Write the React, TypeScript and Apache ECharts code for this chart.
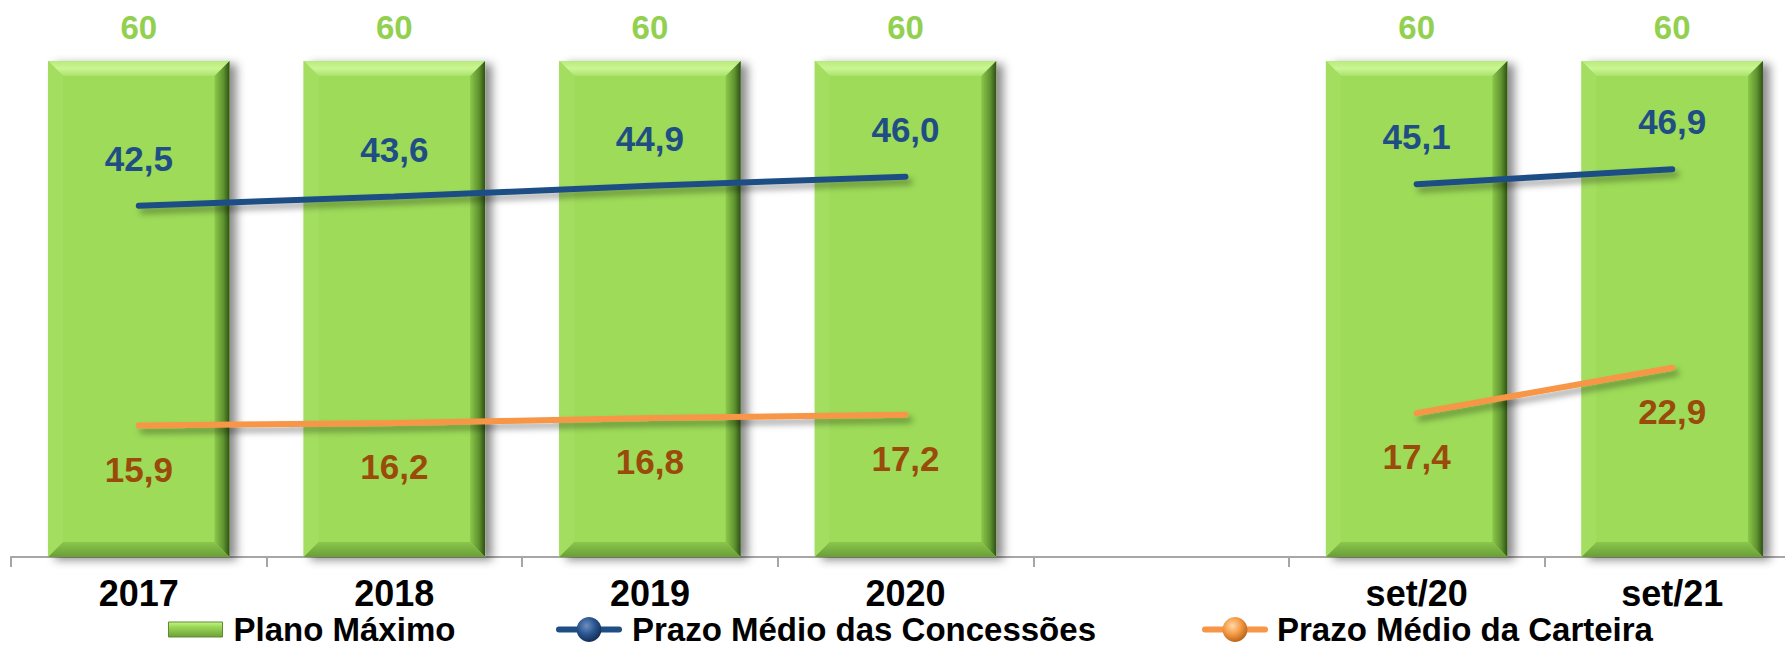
import React, { useEffect, useRef } from 'react';
import * as echarts from 'echarts';

const categories = ['2017', '2018', '2019', '2020', '', 'set/20', 'set/21'];
const planoMaximo: (number | string)[] = [60, 60, 60, 60, '-', 60, 60];
const prazoConcessoes: (number | string)[] = [42.5, 43.6, 44.9, 46.0, '-', 45.1, 46.9];
const prazoCarteira: (number | string)[] = [15.9, 16.2, 16.8, 17.2, '-', 17.4, 22.9];
const seriesNames = ['Plano Máximo', 'Prazo Médio das Concessões', 'Prazo Médio da Carteira'];

const FONT = 'Arial, "Liberation Sans", sans-serif';
const BAR_W = 0.71;

const fmt = (p: any) => {
  const v = Array.isArray(p.value) ? p.value[1] : p.value;
  return Number(v).toFixed(1).replace('.', ',');
};

export default function App() {
  const ref = useRef<HTMLDivElement>(null);
  useEffect(() => {
    document.body.style.margin = '0';
    if (!ref.current) return;
    const chart = echarts.init(ref.current, null, { renderer: 'svg' });
    const bevelData = planoMaximo
      .map((v, i) => (v === '-' ? null : [i, v]))
      .filter((d) => d !== null);
    const sphere = (c0: string, c1: string, c2: string) =>
      new echarts.graphic.RadialGradient(0.4, 0.35, 0.7, [
        { offset: 0, color: c0 },
        { offset: 0.5, color: c1 },
        { offset: 1, color: c2 },
      ]);
    const legendText = {
      fontFamily: FONT,
      fontWeight: 'bold',
      fontSize: 33,
      lineHeight: 30,
      color: '#000',
      padding: [0, 0, 0, 6],
    };
    const option: any = {
      animation: false,
      grid: { left: 11, top: 61, height: 496, width: 1789, outerBoundsMode: 'none', containLabel: false },
      legend: [
        {
          left: 168,
          top: 613,
          padding: 0,
          itemWidth: 54,
          itemHeight: 15,
          selectedMode: false,
          data: [
            {
              name: seriesNames[0],
              icon: 'path://M0,0 H54 V15 H0 Z',
              itemStyle: {
                color: new echarts.graphic.LinearGradient(0, 0, 0, 1, [
                  { offset: 0, color: '#C6F38E' },
                  { offset: 0.3, color: '#9DDB58' },
                  { offset: 1, color: '#6E9F3A' },
                ]),
                borderColor: '#5E8B30',
                borderWidth: 1,
              },
            },
          ],
          textStyle: legendText,
        },
        {
          left: 556,
          top: 613,
          padding: 0,
          itemWidth: 60,
          itemHeight: 31,
          selectedMode: false,
          lineStyle: { width: 6, cap: 'round' },
          data: [
            {
              name: seriesNames[1],
              itemStyle: { color: sphere('#6F8FC0', '#2A5590', '#10294F') },
              lineStyle: { width: 6, color: '#1F4E85', cap: 'round' },
            },
          ],
          textStyle: { ...legendText, padding: [0, 0, 0, 8] },
        },
        {
          left: 1202,
          top: 613,
          padding: 0,
          itemWidth: 60,
          itemHeight: 31,
          selectedMode: false,
          lineStyle: { width: 6, cap: 'round' },
          data: [
            {
              name: seriesNames[2],
              itemStyle: { color: sphere('#FFD9A8', '#F59A45', '#B05E14') },
              lineStyle: { width: 6, color: '#F79646', cap: 'round' },
            },
          ],
          textStyle: { ...legendText, padding: [0, 0, 0, 7] },
        },
      ],
      xAxis: {
        type: 'category',
        data: categories,
        axisLine: { show: true, lineStyle: { color: '#A6A6A6', width: 2 } },
        axisTick: { show: true, length: 10, interval: 0, lineStyle: { color: '#A6A6A6', width: 2 } },
        axisLabel: {
          interval: 0,
          margin: 20,
          fontFamily: FONT,
          fontWeight: 'bold',
          fontSize: 36,
          lineHeight: 32,
          color: '#000',
        },
        splitLine: { show: false },
      },
      yAxis: {
        type: 'value',
        min: 0,
        max: 60,
        show: false,
        splitLine: { show: false },
      },
      series: [
        {
          name: seriesNames[0],
          type: 'bar',
          data: planoMaximo,
          barWidth: '71%',
          z: 2,
          itemStyle: {
            color: '#9DDB58',
            shadowColor: 'rgba(0,0,0,0.45)',
            shadowBlur: 10,
            shadowOffsetX: 7,
            shadowOffsetY: 3,
          },
          label: {
            show: true,
            position: 'top',
            distance: 17,
            fontFamily: FONT,
            fontWeight: 'bold',
            fontSize: 33,
            color: '#92D050',
            formatter: (p: any) => String(p.value),
          },
        },
        {
          name: 'bevel',
          type: 'custom',
          silent: true,
          z: 3,
          data: bevelData,
          renderItem: (params: any, api: any) => {
            const x = api.value(0);
            const v = api.value(1);
            const top = api.coord([x, v]);
            const bot = api.coord([x, 0]);
            const w = api.size([1, 0])[0] * BAR_W;
            const l = top[0] - w / 2;
            const r = top[0] + w / 2;
            const t = top[1];
            const b = bot[1];
            const d = 15;
            return {
              type: 'group',
              children: [
                {
                  type: 'polygon',
                  shape: { points: [[l, t], [r, t], [r - d, t + d], [l + d, t + d]] },
                  style: {
                    fill: new echarts.graphic.LinearGradient(0, 0, 0, 1, [
                      { offset: 0, color: '#B8EB7C' },
                      { offset: 0.5, color: '#CBF593' },
                      { offset: 1, color: '#A9E36A' },
                    ]),
                  },
                },
                {
                  type: 'polygon',
                  shape: { points: [[l, t], [l + d, t + d], [l + d, b - d], [l, b]] },
                  style: { fill: '#A3DE60' },
                },
                {
                  type: 'polygon',
                  shape: { points: [[r, t], [r, b], [r - d, b - d], [r - d, t + d]] },
                  style: {
                    fill: new echarts.graphic.LinearGradient(0, 0, 1, 0, [
                      { offset: 0, color: '#8CC74C' },
                      { offset: 0.6, color: '#5E922E' },
                      { offset: 1, color: '#2F4F17' },
                    ]),
                  },
                },
                {
                  type: 'polygon',
                  shape: { points: [[l, b], [r, b], [r - d, b - d], [l + d, b - d]] },
                  style: {
                    fill: new echarts.graphic.LinearGradient(0, 0, 0, 1, [
                      { offset: 0, color: '#8AC64C' },
                      { offset: 1, color: '#6A9E37' },
                    ]),
                  },
                },
              ],
            };
          },
        },
        {
          name: seriesNames[1],
          type: 'line',
          data: prazoConcessoes,
          z: 5,
          symbol: 'circle',
          symbolSize: 2,
          connectNulls: false,
          itemStyle: { color: '#1F4E85' },
          lineStyle: {
            color: '#1F4E85',
            width: 6,
            cap: 'round',
            shadowColor: 'rgba(0,0,0,0.35)',
            shadowBlur: 6,
            shadowOffsetX: 4,
            shadowOffsetY: 5,
          },
          label: {
            show: true,
            position: 'top',
            distance: 29,
            fontFamily: FONT,
            fontWeight: 'bold',
            fontSize: 35,
            color: '#1F4E85',
            formatter: fmt,
          },
        },
        {
          name: seriesNames[2],
          type: 'line',
          data: prazoCarteira,
          z: 5,
          symbol: 'circle',
          symbolSize: 2,
          connectNulls: false,
          itemStyle: { color: '#F79646' },
          lineStyle: {
            color: '#F79646',
            width: 6,
            cap: 'round',
            shadowColor: 'rgba(0,0,0,0.35)',
            shadowBlur: 6,
            shadowOffsetX: 4,
            shadowOffsetY: 5,
          },
          label: {
            show: true,
            position: 'bottom',
            distance: 25,
            fontFamily: FONT,
            fontWeight: 'bold',
            fontSize: 35,
            color: '#9A4A0A',
            formatter: fmt,
          },
        },
      ],
    };
    chart.setOption(option);
    return () => chart.dispose();
  }, []);
  return <div ref={ref} style={{ width: 1785, height: 648 }} />;
}
